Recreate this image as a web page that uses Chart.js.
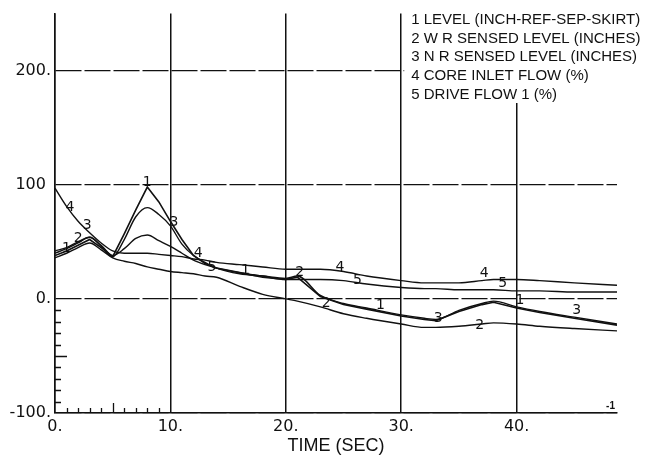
<!DOCTYPE html>
<html>
<head>
<meta charset="utf-8">
<title>Level transient</title>
<script src="https://cdn.jsdelivr.net/npm/chart.js@4.4.1/dist/chart.umd.min.js"></script>
<style>
  html, body { margin: 0; padding: 0; background: #fff; }
</style>
</head>
<body>
<canvas id="levelChart" width="660" height="461"></canvas>
<script>
// time base shared by all five traces (seconds)
var timeSec = [0, 1, 2, 3, 4, 5, 6, 7, 8, 9, 10, 11, 12, 13, 14, 16, 18, 20, 21,
               23, 25, 27, 30, 32, 33, 35, 37, 38, 40, 42, 45, 48.7];

// 1 LEVEL (INCH-REF-SEP-SKIRT)
var level      = [38, 42, 47, 52, 45, 37, 57, 78, 98, 85, 68, 52, 38, 31, 27, 23, 19, 17, 19,
                  2, -5, -9, -15, -18, -19, -11, -5, -3, -8, -12, -17, -23];
// 2 W R SENSED LEVEL (INCHES)
var wrSensed   = [36, 40, 45, 49, 43, 36, 33, 31, 28, 26, 24, 23, 22, 20, 19, 11, 4, 0, -2,
                  -7, -13, -17, -22, -25, -25, -24, -22, -21, -22, -24, -26, -28];
// 3 N R SENSED LEVEL (INCHES)
var nrSensed   = [40, 44, 49, 54, 46, 37, 52, 72, 80, 74, 64, 48, 38, 32, 27, 22, 20, 18, 20,
                  3, -4, -8, -14, -17, -18, -10, -4, -2, -7, -11, -16, -22];
// 4 CORE INLET FLOW (%)
var coreFlow   = [97, 81, 68, 58, 49, 42, 40, 40, 40, 39, 38, 37, 35, 34, 32, 30, 28, 26, 26,
                  26, 24, 20, 16, 14, 14, 14, 16, 17, 17, 16, 14, 12];
// 5 DRIVE FLOW 1 (%)
var driveFlow  = [42, 45, 50, 54, 47, 38, 44, 53, 56, 51, 46, 40, 34, 30, 27, 23, 20, 17, 17,
                  17, 16, 13, 10, 9, 9, 8, 8, 8, 7, 7, 6, 6];

var seriesNames = ['1 LEVEL (INCH-REF-SEP-SKIRT)', '2 W R SENSED LEVEL (INCHES)',
                   '3 N R SENSED LEVEL (INCHES)', '4 CORE INLET FLOW (%)', '5 DRIVE FLOW 1 (%)'];

var xTickValues = [0, 10, 20, 30, 40];
var xTickText   = ['0.', '10.', '20.', '30.', '40.'];
var yTickValues = [-100, 0, 100, 200];
var yTickText   = ['-100.', '0.', '100 ', '200.'];

// small marks along the first decade of each axis
var xMinorTicks = [1, 2, 3, 4, 5, 6, 7, 8, 9];
var yMinorTicks = [-90, -80, -70, -60, -50, -40, -30, -20, -10];

// curve numbers written along the traces
var tagText  = ['1', '2', '4', '3', '1', '3', '4', '5', '1', '2', '4', '5', '2', '1', '3', '2', '4', '5', '1', '3'];
var tagTime  = [1.0, 2.0, 1.3, 2.8, 8.0, 10.3, 12.4, 13.6, 16.5, 21.2, 24.7, 26.2, 23.5, 28.2, 33.2, 36.8, 37.2, 38.8, 40.3, 45.2];
var tagValue = [44, 53, 80, 64, 102, 67, 40, 28, 25, 23, 28, 16, -4, -6, -17, -23, 22, 14, -1, -10];

var ink = '#111';

function toPoints(values) {
    return timeSec.map(function (t, i) { return { x: t, y: values[i] }; });
}

var traceSets = [level, wrSensed, nrSensed, coreFlow, driveFlow].map(function (vals, i) {
    var ds = {
        label: seriesNames[i],
        data: toPoints(vals),
        borderColor: ink,
        borderWidth: 1.4,
        pointRadius: 0,
        fill: false,
        cubicInterpolationMode: 'monotone'
    };
    // the level trace is drawn with straight segments so its peak stays sharp
    if (i === 0) {
        ds.cubicInterpolationMode = 'default';
        ds.tension = 0;
        ds.borderWidth = 1.6;
    }
    return ds;
});

var decorations = {
    id: 'decorations',
    beforeDraw: function (chart) {
        var ctx = chart.ctx;
        ctx.save();
        ctx.fillStyle = '#fff';
        ctx.fillRect(0, 0, chart.width, chart.height);
        ctx.restore();
    },
    afterDraw: function (chart) {
        var ctx = chart.ctx, area = chart.chartArea;
        var xs = chart.scales.x, ys = chart.scales.y;
        ctx.save();

        // minor ticks
        ctx.strokeStyle = ink;
        ctx.lineWidth = 1.3;
        ctx.beginPath();
        yMinorTicks.forEach(function (v) {
            var py = Math.round(ys.getPixelForValue(v)) + 0.5;
            ctx.moveTo(area.left, py);
            ctx.lineTo(area.left + (v === -50 ? 12 : 6), py);
        });
        xMinorTicks.forEach(function (v) {
            var px = Math.round(xs.getPixelForValue(v)) + 0.5;
            ctx.moveTo(px, area.bottom);
            ctx.lineTo(px, area.bottom - (v === 5 ? 10 : 5));
        });
        ctx.stroke();

        // legend block
        var boxLeft = xs.getPixelForValue(30) + 3;
        ctx.fillStyle = '#fff';
        ctx.fillRect(boxLeft, 0, chart.width - boxLeft, 103);
        ctx.fillStyle = ink;
        ctx.font = '15px "Liberation Sans", Arial, sans-serif';
        ctx.textBaseline = 'middle';
        ctx.textAlign = 'left';
        seriesNames.forEach(function (name, i) {
            ctx.fillText(name, boxLeft + 7, 20 + i * 18.6);
        });

        // curve numbers
        ctx.font = '14px "DejaVu Sans", sans-serif';
        ctx.textAlign = 'center';
        tagText.forEach(function (txt, i) {
            ctx.fillText(txt, xs.getPixelForValue(tagTime[i]), ys.getPixelForValue(tagValue[i]));
        });

        // frame number in the corner
        ctx.font = 'bold 10px "Liberation Sans", Arial, sans-serif';
        ctx.textAlign = 'right';
        ctx.fillText('-1', area.right - 2, area.bottom - 7);
        ctx.restore();
    }
};

var ctx = document.getElementById('levelChart').getContext('2d');
var levelChart = new Chart(ctx, {
    type: 'line',
    data: { datasets: traceSets },
    plugins: [decorations],
    options: {
        responsive: false,
        animation: false,
        devicePixelRatio: 1,
        layout: { padding: { top: 7, right: 43, left: 0, bottom: 0 } },
        plugins: { legend: { display: false }, tooltip: { enabled: false } },
        scales: {
            x: {
                type: 'linear',
                min: 0,
                max: 48.7,
                afterBuildTicks: function (s) {
                    s.ticks = xTickValues.map(function (v) { return { value: v }; });
                },
                afterFit: function (s) { s.height = 48; },
                grid: { color: ink, lineWidth: 1.5, drawTicks: false },
                border: { color: ink, width: 1.5 },
                ticks: {
                    padding: 4,
                    maxRotation: 0,
                    color: ink,
                    font: { family: 'DejaVu Sans', size: 16 },
                    callback: function (v) { return xTickText[xTickValues.indexOf(v)]; }
                },
                title: {
                    display: true,
                    text: 'TIME (SEC)',
                    color: ink,
                    font: { family: 'Liberation Sans', size: 18 },
                    padding: { top: 0, bottom: 4 }
                }
            },
            y: {
                min: -100,
                max: 250,
                afterBuildTicks: function (s) {
                    s.ticks = yTickValues.map(function (v) { return { value: v }; });
                },
                afterFit: function (s) { s.width = 55; },
                grid: { color: ink, lineWidth: 1.2, drawTicks: false },
                border: { color: ink, width: 1.5, dash: [26, 3] },
                ticks: {
                    padding: 4,
                    color: ink,
                    font: { family: 'DejaVu Sans', size: 16 },
                    callback: function (v) { return yTickText[yTickValues.indexOf(v)]; }
                }
            }
        }
    }
});
</script>
</body>
</html>
